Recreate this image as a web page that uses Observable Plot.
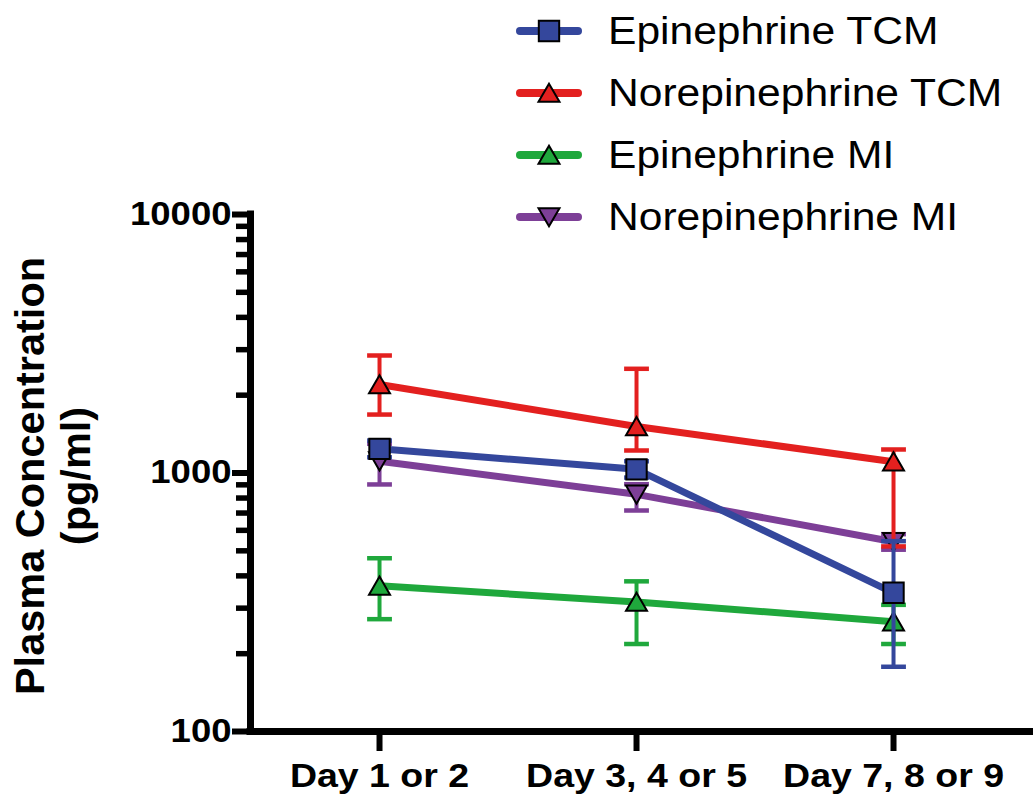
<!DOCTYPE html>
<html><head><meta charset="utf-8">
<script src="https://cdn.jsdelivr.net/npm/d3@7"></script>
<script src="https://cdn.jsdelivr.net/npm/@observablehq/plot@0.6"></script>
<style>
body{margin:0;background:#fff;}
#wrap{position:relative;width:1033px;height:805px;font-family:"Liberation Sans",Arial,sans-serif;}
#chart svg{display:block;}
#legend{position:absolute;left:516px;top:0;}
.row{display:flex;align-items:center;height:62px;}
.row svg{display:block;}
.row span{font-size:38px;color:#000;margin-left:26px;line-height:1;display:inline-block;transform:scaleX(1.12);transform-origin:left center;white-space:nowrap;}
</style></head><body><div id="wrap"><div id="chart"></div><div id="legend"></div></div>
<script>
// ---- data ----
const days = ["Day 1 or 2", "Day 3, 4 or 5", "Day 7, 8 or 9"];
const seriesNames = ["Epinephrine TCM", "Norepinephrine TCM", "Epinephrine MI", "Norepinephrine MI"];
const seriesColors = ["#34479c", "#e3201f", "#1fa83c", "#7d3f97"];
const seriesSymbols = ["square", "triangle", "triangle", "triangle-down"];

const epiTCM      = [1240, 1033, 344];
const epiTCMLow   = [1150, 960, 178];
const epiTCMHigh  = [1335, 1110, 545];

const neTCM       = [2200, 1514, 1106];
const neTCMLow    = [1683, 1222, 520];
const neTCMHigh   = [2848, 2530, 1233];

const epiMI       = [366, 317, 266];
const epiMILow    = [272, 218, 218];
const epiMIHigh   = [468, 381, 309];

const neMI        = [1111, 827, 542];
const neMILow     = [903, 716, 505];
const neMIHigh    = [1297, 905, 580];

const yMajorTicks = [100, 1000, 10000];
const yMinorTicks = [200, 300, 400, 500, 600, 700, 800, 900, 2000, 3000, 4000, 5000, 6000, 7000, 8000, 9000];
const yLabel = "Plasma Concentration\n(pg/ml)";

// ---- table ----
const valueSets = [
  [epiTCM, epiTCMLow, epiTCMHigh],
  [neTCM, neTCMLow, neTCMHigh],
  [epiMI, epiMILow, epiMIHigh],
  [neMI, neMILow, neMIHigh]
];
const rows = [];
seriesNames.forEach((name, s) => {
  days.forEach((day, i) => {
    rows.push({series: name, i, day, value: valueSets[s][0][i], low: valueSets[s][1][i], high: valueSets[s][2][i]});
  });
});

const capSymbol = {draw(ctx, size) { const w = Math.sqrt(size) / 2; ctx.moveTo(-w, 0); ctx.lineTo(w, 0); }};
const xDomain = [-0.502, 2.533];
const STRETCH = 1.12;

const marks = [];
// draw order: last series first so Epinephrine TCM is on top
for (let s = seriesNames.length - 1; s >= 0; s--) {
  const name = seriesNames[s];
  const color = seriesColors[s];
  const sym = seriesSymbols[s];
  const d = rows.filter(r => r.series === name);
  marks.push(Plot.ruleX(d, {x: "i", y1: "low", y2: "high", stroke: color, strokeWidth: 4}));
  marks.push(Plot.dot(d, {x: "i", y: "low", symbol: capSymbol, r: 14, stroke: color, fill: "none", strokeWidth: 4.5}));
  marks.push(Plot.dot(d, {x: "i", y: "high", symbol: capSymbol, r: 14, stroke: color, fill: "none", strokeWidth: 4.5}));
  marks.push(Plot.line(d, {x: "i", y: "value", stroke: color, strokeWidth: 7}));
  if (sym === "square") {
    marks.push(Plot.dot(d, {x: "i", y: "value", symbol: "square", r: 11.5, fill: color, stroke: "#000", strokeWidth: 2}));
  } else if (sym === "triangle") {
    marks.push(Plot.dot(d, {x: "i", y: "value", symbol: "triangle", r: 7.8, fill: color, stroke: "#000", strokeWidth: 2, dy: 2.8}));
  } else {
    marks.push(Plot.dot(d, {x: "i", y: "value", symbol: "triangle", rotate: 180, r: 7.8, fill: color, stroke: "#000", strokeWidth: 2, dy: -2.8}));
  }
}

const chart = Plot.plot({
  width: 1033,
  height: 805,
  marginLeft: 250,
  marginRight: 3,
  marginTop: 214,
  marginBottom: 74,
  style: {fontFamily: "'Liberation Sans', Arial, sans-serif", fontWeight: "bold", color: "#000", background: "#fff"},
  x: {type: "linear", domain: xDomain},
  y: {type: "log", domain: [100, 10000]},
  marks: [
    Plot.axisY({ticks: yMinorTicks, tickSize: 14, strokeWidth: 5.5, text: null, label: null}),
    Plot.axisY({ticks: yMajorTicks, tickSize: 18, tickPadding: 1, strokeWidth: 6, fontSize: 32.6, tickFormat: d => String(d), label: null}),
    Plot.axisX({ticks: [0, 1, 2], tickFormat: i => days[i], tickSize: 20, tickPadding: 12, strokeWidth: 6, fontSize: 33.5, label: null}),
    Plot.ruleY([100], {strokeWidth: 7, stroke: "#000", strokeLinecap: "square"}),
    Plot.ruleX([xDomain[0]], {strokeWidth: 7, stroke: "#000", strokeLinecap: "square"}),
    Plot.text([yLabel], {frameAnchor: "left", textAnchor: "middle", lineAnchor: "middle", text: d => d, rotate: -90, dx: -198, dy: 3, fontSize: 41.5, lineHeight: 1.09, fill: "#000", ariaLabel: "y-title"}),
    ...marks
  ]
});
document.getElementById("chart").appendChild(chart);

// horizontal stretch of text glyphs to match the reference's wide lettering
function stretch(el, sx, sy) {
  const t = el.getAttribute("transform");
  if (t) {
    el.setAttribute("transform", `${t} scale(${sx},${sy})`);
  } else {
    const x = +(el.getAttribute("x") || 0), y = +(el.getAttribute("y") || 0);
    el.setAttribute("transform", `translate(${x},${y}) scale(${sx},${sy}) translate(${-x},${-y})`);
  }
}
d3.select(chart).selectAll('g[aria-label="y-axis tick label"] text, g[aria-label="x-axis tick label"] text')
  .each(function() { stretch(this, STRETCH, 1); });
d3.select(chart).selectAll('g[aria-label="y-title"] text')
  .each(function() { stretch(this, 1, 1.11); });

// ---- legend ----
const legend = d3.select("#legend");
seriesNames.forEach((name, s) => {
  const row = legend.append("div").attr("class", "row");
  const svg = row.append("svg").attr("width", 66).attr("height", 30);
  svg.append("line").attr("x1", 4).attr("x2", 62).attr("y1", 15).attr("y2", 15)
    .attr("stroke", seriesColors[s]).attr("stroke-width", 8).attr("stroke-linecap", "round");
  const sym = seriesSymbols[s];
  let path, rot = 0, off = 0;
  if (sym === "square") { path = d3.symbol(d3.symbolSquare, Math.PI * 11.5 * 11.5)(); }
  else { path = d3.symbol(d3.symbolTriangle, Math.PI * 7.8 * 7.8)(); off = sym === "triangle" ? 2.8 : -2.8; rot = sym === "triangle" ? 0 : 180; }
  svg.append("path").attr("d", path).attr("transform", `translate(33,${15 + off}) rotate(${rot})`)
    .attr("fill", seriesColors[s]).attr("stroke", "#000").attr("stroke-width", 2);
  row.append("span").text(name);
});
</script></body></html>
